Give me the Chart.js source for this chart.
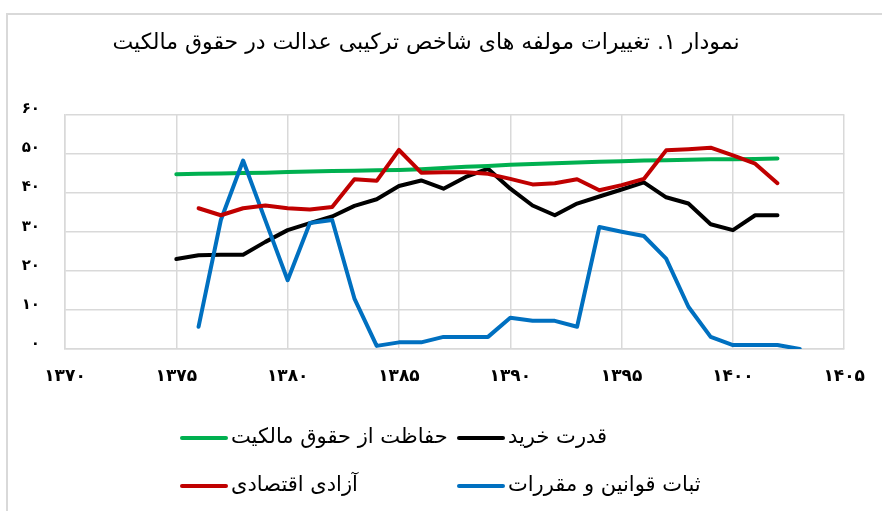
<!DOCTYPE html>
<html>
<head>
<meta charset="utf-8">
<script src="https://cdn.jsdelivr.net/npm/chart.js@4/dist/chart.umd.min.js"></script>
<style>
  html, body { margin: 0; padding: 0; background: #ffffff; overflow: hidden; }
  #frame { position: absolute; left: 6px; top: 13px; width: 1000px; height: 600px;
           border-left: 2px solid #d9d9d9; border-top: 2px solid #d9d9d9; }
  #wrap { position: absolute; left: 0; top: 0; width: 882px; height: 511px; }
</style>
</head>
<body>
<div id="frame"></div>
<div id="wrap"><canvas id="c" width="882" height="511" dir="rtl"></canvas></div>
<script>
// ---- data ----
const chartTitle = 'نمودار ۱. تغییرات مولفه های شاخص ترکیبی عدالت در حقوق مالکیت';
const years = [1375,1376,1377,1378,1379,1380,1381,1382,1383,1384,1385,1386,1387,1388,1389,
               1390,1391,1392,1393,1394,1395,1396,1397,1398,1399,1400,1401,1402,1403];
const purchasingPower = [23.0,24.0,24.1,24.1,27.4,30.4,32.2,33.9,36.6,38.3,41.7,43.1,41.0,44.0,46.1,
                         41.0,36.7,34.2,37.2,39.0,40.8,42.6,38.8,37.2,31.9,30.4,34.2,34.2,null];
const propertyRights = [44.7,44.8,44.9,45.0,45.1,45.3,45.4,45.5,45.6,45.7,45.8,46.0,46.3,46.6,46.8,
                        47.1,47.3,47.5,47.7,47.9,48.0,48.2,48.3,48.4,48.5,48.5,48.6,48.7,null];
const lawStability = [null,5.7,33.0,48.2,32.9,17.6,32.2,33.0,12.9,0.8,1.7,1.7,3.1,3.1,3.1,
                      8.0,7.2,7.2,5.7,31.2,30.0,28.9,23.1,10.8,3.1,1.0,1.0,1.0,0.0];
const economicFreedom = [null,36.0,34.2,36.0,36.7,36.0,35.7,36.3,43.4,43.0,50.9,45.1,45.2,45.2,44.8,
                         43.5,42.1,42.4,43.4,40.6,41.9,43.5,50.8,51.1,51.5,49.5,47.4,42.4,null];
const seriesNames = ['قدرت خرید','حفاظت از حقوق مالکیت','ثبات قوانین و مقررات','آزادی اقتصادی'];
const seriesColors = ['#000000','#00B050','#0070C0','#C00000'];
const xTickValues = [1370,1375,1380,1385,1390,1395,1400,1405];
const xTickLabels = ['۱۳۷۰','۱۳۷۵','۱۳۸۰','۱۳۸۵','۱۳۹۰','۱۳۹۵','۱۴۰۰','۱۴۰۵'];
const yTickValues = [0,10,20,30,40,50,60];
const yTickLabels = ['۰','۱۰','۲۰','۳۰','۴۰','۵۰','۶۰'];

const FONT = "'DejaVu Sans', 'Noto Sans', sans-serif";
const toPoints = vals => years.map((y, i) => ({x: y, y: vals[i]}));
const seriesValues = [purchasingPower, propertyRights, lawStability, economicFreedom];

// drawing order: red on top, then blue, green, black
const drawOrder = [3, 2, 1, 0];
const datasets = seriesValues.map((vals, i) => ({
  label: seriesNames[i],
  data: toPoints(vals),
  borderColor: seriesColors[i],
  backgroundColor: seriesColors[i],
  borderWidth: 4,
  pointRadius: 0,
  tension: 0,
  spanGaps: false,
  borderCapStyle: 'round',
  borderJoinStyle: 'round',
  order: drawOrder[i]
}));

// custom legend: 2 columns, RTL reading (text followed by line on its left)
const legendPlugin = {
  id: 'gridLegend',
  afterDraw(chart) {
    const ctx = chart.ctx;
    const cols = [457, 180];
    const rows = [438, 486];
    const boxW = 48;
    chart.data.datasets.forEach((ds, i) => {
      const x = cols[i % 2];
      const y = rows[Math.floor(i / 2)];
      ctx.save();
      ctx.strokeStyle = ds.borderColor;
      ctx.lineWidth = 4;
      ctx.lineCap = 'round';
      ctx.beginPath();
      ctx.moveTo(x + 2, y);
      ctx.lineTo(x + boxW - 2, y);
      ctx.stroke();
      ctx.fillStyle = '#000000';
      ctx.font = '21px ' + FONT;
      ctx.textAlign = 'left';
      ctx.textBaseline = 'middle';
      ctx.fillText(ds.label, x + boxW + 3, y);
      ctx.restore();
    });
  }
};

new Chart(document.getElementById('c'), {
  type: 'line',
  data: { datasets },
  options: {
    responsive: false,
    animation: false,
    layout: { padding: { left: 0, right: 30, top: 0, bottom: 0 } },
    plugins: {
      legend: { display: false },
      tooltip: { enabled: false },
      title: {
        display: true,
        text: chartTitle,
        color: '#000000',
        font: { family: FONT, size: 22, weight: 'normal', lineHeight: 1.2 },
        padding: { top: 30, bottom: 58 }
      }
    },
    scales: {
      x: {
        type: 'linear',
        min: 1370, max: 1405,
        afterBuildTicks: s => { s.ticks = xTickValues.map(v => ({value: v})); },
        afterFit: s => { s.height = 162; },
        grid: { color: '#d9d9d9', lineWidth: 1.5, drawTicks: false },
        border: { color: '#d9d9d9', width: 1.5 },
        ticks: {
          padding: 17,
          color: '#000000',
          font: { family: FONT, size: 17, weight: 'bold' },
          maxRotation: 0,
          autoSkip: false,
          callback: v => xTickLabels[xTickValues.indexOf(v)]
        }
      },
      y: {
        type: 'linear',
        min: 0, max: 60,
        afterBuildTicks: s => { s.ticks = yTickValues.map(v => ({value: v})); },
        afterFit: s => { s.width = 65; },
        grid: { color: '#d9d9d9', lineWidth: 1.5, drawTicks: false },
        border: { color: '#d9d9d9', width: 1.5 },
        ticks: {
          padding: 25,
          labelOffset: -5,
          color: '#000000',
          font: { family: FONT, size: 15, weight: 'bold' },
          callback: v => yTickLabels[yTickValues.indexOf(v)]
        }
      }
    }
  },
  plugins: [legendPlugin]
});
</script>
</body>
</html>
